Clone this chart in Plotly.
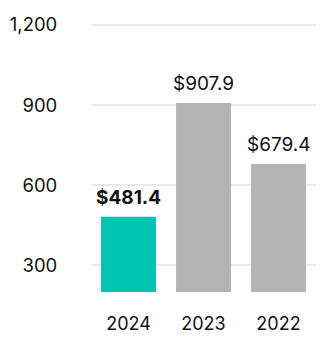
import plotly.graph_objects as go

years = ["2024", "2023", "2022"]
values = [481.4, 907.9, 679.4]
bar_colors = ["#00C4B0", "#B3B3B3", "#B3B3B3"]
y_ticks = [300, 600, 900, 1200]
y_tick_labels = ["300", "600", "900", "1,200"]

labels = [f"${v:,.1f}" for v in values]
labels[0] = f"<b>{labels[0]}</b>"

fig = go.Figure(
    go.Bar(
        x=years,
        y=values,
        marker=dict(color=bar_colors, line=dict(width=0)),
        hoverinfo="skip",
    )
)

# value labels above each bar (category index as x position)
for i, (v, lab) in enumerate(zip(values, labels)):
    fig.add_annotation(
        x=i,
        y=v,
        text=lab,
        showarrow=False,
        yanchor="bottom",
        yshift=6,
        font=dict(family="Inter", size=19, color="#111111"),
    )

fig.update_layout(
    width=326,
    height=344,
    margin=dict(l=88, r=10, t=22, b=48),
    paper_bgcolor="white",
    plot_bgcolor="white",
    bargap=0.268,
    showlegend=False,
    font=dict(family="Inter", size=18, color="#111111"),
)

fig.update_xaxes(
    type="category",
    categoryorder="array",
    categoryarray=years,
    range=[-0.5, len(years) - 0.5],
    showgrid=False,
    showline=False,
    zeroline=False,
    ticks="outside",
    ticklen=15,
    tickcolor="rgba(0,0,0,0)",
    tickfont=dict(size=18),
)

fig.update_yaxes(
    range=[200, 1211],
    tickvals=y_ticks,
    ticktext=y_tick_labels,
    showgrid=True,
    gridcolor="#E8E8E8",
    gridwidth=1.5,
    zeroline=False,
    showline=False,
    ticks="outside",
    ticklen=29,
    tickcolor="rgba(0,0,0,0)",
    tickfont=dict(size=18.5),
)

fig.write_html("out.html")
